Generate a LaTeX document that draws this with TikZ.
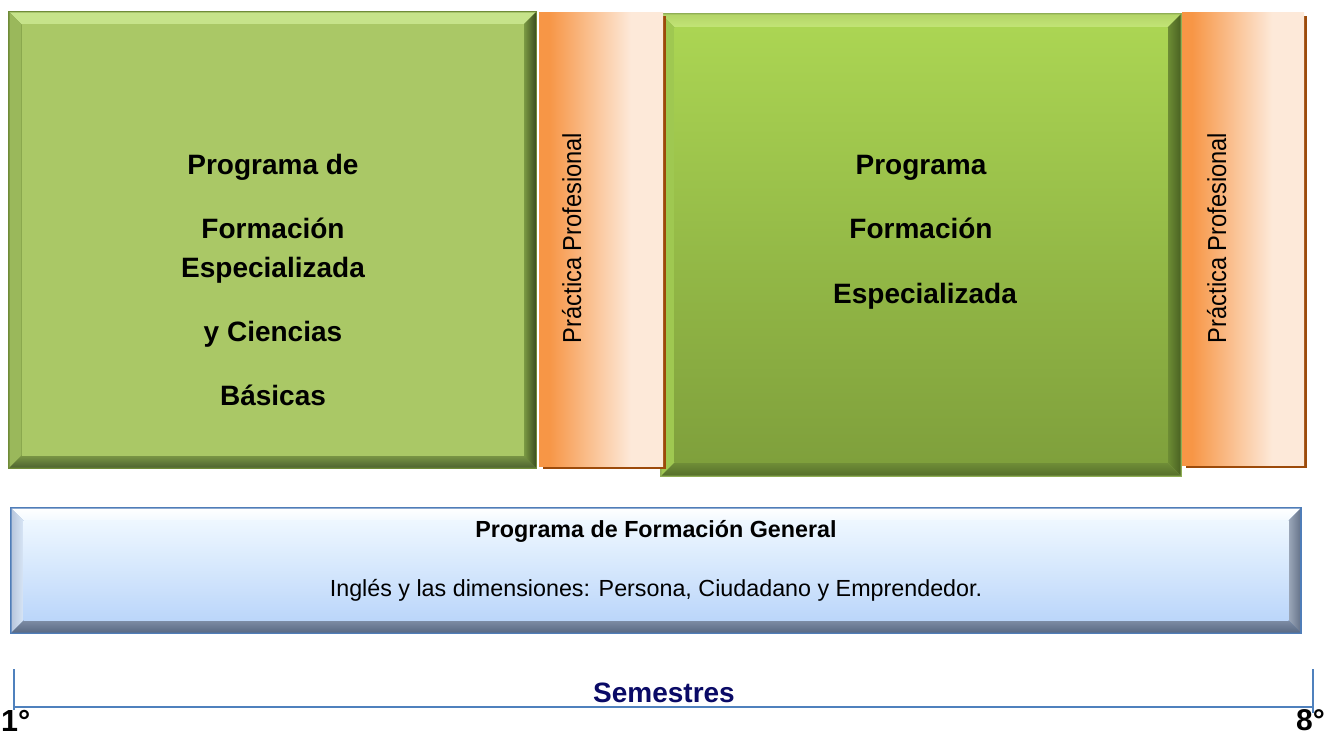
\documentclass[tikz,border=0pt]{standalone}
\usepackage{fontspec}
\setmainfont{Liberation Sans}
\definecolor{gA}{HTML}{AAC866}
\definecolor{gAtop}{HTML}{C6E38A}
\definecolor{gAout}{HTML}{6F8B38}
\definecolor{gAleft}{HTML}{9AB85B}
\definecolor{gBtopface}{HTML}{ABD553}
\definecolor{gBbotface}{HTML}{7FA03C}
\definecolor{orng}{HTML}{F79646}
\definecolor{pale}{HTML}{FDE9D9}
\definecolor{brsh}{HTML}{9C4A0A}
\definecolor{tline}{HTML}{4F81BD}
\definecolor{navy}{HTML}{0A0A66}
\definecolor{HTML7D9C44}{HTML}{7D9C44}
\definecolor{HTML3F5222}{HTML}{3F5222}
\definecolor{HTML7A9645}{HTML}{7A9645}
\definecolor{HTML4F6530}{HTML}{4F6530}
\definecolor{HTML8FAE55}{HTML}{8FAE55}
\definecolor{HTMLB4D568}{HTML}{B4D568}
\definecolor{HTMLC3E577}{HTML}{C3E577}
\definecolor{HTML9FC851}{HTML}{9FC851}
\definecolor{HTML6E8E35}{HTML}{6E8E35}
\definecolor{HTML4A6222}{HTML}{4A6222}
\definecolor{HTML708E37}{HTML}{708E37}
\definecolor{HTML56702A}{HTML}{56702A}
\definecolor{HTML4F7DB8}{HTML}{4F7DB8}
\definecolor{HTMLFFFFFF}{HTML}{FFFFFF}
\definecolor{HTMLF2F9FF}{HTML}{F2F9FF}
\definecolor{HTMLB8C6DC}{HTML}{B8C6DC}
\definecolor{HTMLD8E6F6}{HTML}{D8E6F6}
\definecolor{HTML9CA8BA}{HTML}{9CA8BA}
\definecolor{HTML66738A}{HTML}{66738A}
\definecolor{HTML7D8CA4}{HTML}{7D8CA4}
\definecolor{HTML5A6A84}{HTML}{5A6A84}
\definecolor{HTMLEEF7FF}{HTML}{EEF7FF}
\definecolor{HTMLBBD6FA}{HTML}{BBD6FA}
\pgfdeclarehorizontalshading{practica}{100bp}{color(0bp)=(orng); color(29bp)=(orng); color(62bp)=(pale); color(100bp)=(pale)}
\tikzset{
  Aout/.style={fill=gAout},
  Atop/.style={fill=gAtop},
  Aleft/.style={fill=gAleft},
  Aright/.style={left color=HTML7D9C44, right color=HTML3F5222},
  Abot/.style={top color=HTML7A9645, bottom color=HTML4F6530},
  Aface/.style={fill=gA},
  Bout/.style={fill=HTML8FAE55},
  Btop/.style={top color=HTMLB4D568, bottom color=HTMLC3E577},
  Bleft/.style={fill=HTML9FC851},
  Bright/.style={left color=HTML6E8E35, right color=HTML4A6222},
  Bbot/.style={top color=HTML708E37, bottom color=HTML56702A},
  Bface/.style={top color=gBtopface, bottom color=gBbotface},
  Cout/.style={fill=HTML4F7DB8},
  Ctop/.style={top color=HTMLFFFFFF, bottom color=HTMLF2F9FF},
  Cleft/.style={left color=HTMLB8C6DC, right color=HTMLD8E6F6},
  Cright/.style={left color=HTML9CA8BA, right color=HTML66738A},
  Cbot/.style={top color=HTML7D8CA4, bottom color=HTML5A6A84},
  Cface/.style={top color=HTMLEEF7FF, bottom color=HTMLBBD6FA},
  greentext/.style={font=\fontsize{28}{34}\selectfont\bfseries, anchor=base, inner sep=0pt},
  practext/.style={font=\fontsize{26}{30}\selectfont, rotate=90, anchor=base, inner sep=0pt},
  bluetext/.style={font=\fontsize{23.3}{28}\selectfont, anchor=base, inner sep=0pt},
  tl/.style={draw=tline, line width=1.6pt},
}
% bevelled box: x1 y1 x2 y2 bevel prefix
\newcommand\bevelbox[6]{%
  \path[#6out] (#1,#2) rectangle (#3,#4);
  \path[#6top] (#1+1.5,#2+1.5) -- (#3-1.5,#2+1.5) -- (#3-1.5-#5,#2+1.5+#5) -- (#1+1.5+#5,#2+1.5+#5) -- cycle;
  \path[#6left] (#1+1.5,#2+1.5) -- (#1+1.5+#5,#2+1.5+#5) -- (#1+1.5+#5,#4-1.5-#5) -- (#1+1.5,#4-1.5) -- cycle;
  \path[#6right] (#3-1.5,#2+1.5) -- (#3-1.5,#4-1.5) -- (#3-1.5-#5,#4-1.5-#5) -- (#3-1.5-#5,#2+1.5+#5) -- cycle;
  \path[#6bot] (#1+1.5,#4-1.5) -- (#1+1.5+#5,#4-1.5-#5) -- (#3-1.5-#5,#4-1.5-#5) -- (#3-1.5,#4-1.5) -- cycle;
  \path[#6face] (#1+1.5+#5,#2+1.5+#5) rectangle (#3-1.5-#5,#4-1.5-#5);
}
\begin{document}
\begin{tikzpicture}[x=1pt,y=-1pt]
\useasboundingbox[fill=white] (0,0) rectangle (1329,735);
% left green box
\bevelbox{8}{11}{537}{469}{12}{A}
% right green box
\bevelbox{660}{13}{1182}{477}{13}{B}
% practica strips
\fill[brsh] (543,16) rectangle (666,469);
\shade[shading=practica] (539,13) rectangle (663,466);
\fill[brsh] (1186,16) rectangle (1307,468);
\shade[shading=practica] (1182,13) rectangle (1304,465);
% blue box
\bevelbox{10}{507}{1302}{634}{12}{C}
% texts in left green box
\node[greentext] (a1) at (273,175) {Programa de};
\node[greentext] (a2) at (273,239) {Formación};
\node[greentext] (a3) at (273,277) {Especializada};
\node[greentext] (a4) at (273,341) {y Ciencias};
\node[greentext] (a5) at (273,405) {Básicas};
% texts in right green box
\node[greentext] (b1) at (921,175) {Programa};
\node[greentext] (b2) at (921,239) {Formación};
\node[greentext] (b3) at (925,303) {Especializada};
% practica texts
\node[practext] (p1) at (581,238) {\scalebox{0.91}[1]{Práctica Profesional}};
\node[practext] (p2) at (1226,238) {\scalebox{0.91}[1]{Práctica Profesional}};
% blue texts
\node[bluetext, font=\fontsize{23.3}{28}\selectfont\bfseries] (g1) at (656,537) {Programa de Formación General};
\node[bluetext] (g2) at (656,596) {Inglés y las dimensiones: Persona, Ciudadano y Emprendedor.};
% timeline
\coordinate (t1) at (14,707);
\coordinate (t2) at (1313,707);
\coordinate (t1u) at (14,669);
\coordinate (t2u) at (1313,669);
\coordinate (t1d) at (14,710);
\coordinate (t2d) at (1313,713);
\draw[tl] (t1) -- (t2);
\draw[tl] (t1u) -- (t1d);
\draw[tl] (t2u) -- (t2d);
\node[font=\fontsize{28}{32}\selectfont\bfseries, text=navy, anchor=base, inner sep=0pt] (sem) at (664,702) {Semestres};
\node[font=\fontsize{30.5}{34}\selectfont\bfseries, anchor=base west, inner sep=0pt] (s1) at (1,731) {1°};
\node[font=\fontsize{30}{34}\selectfont\bfseries, anchor=base east, inner sep=0pt] (s8) at (1325,730) {8°};
\end{tikzpicture}
\end{document}
